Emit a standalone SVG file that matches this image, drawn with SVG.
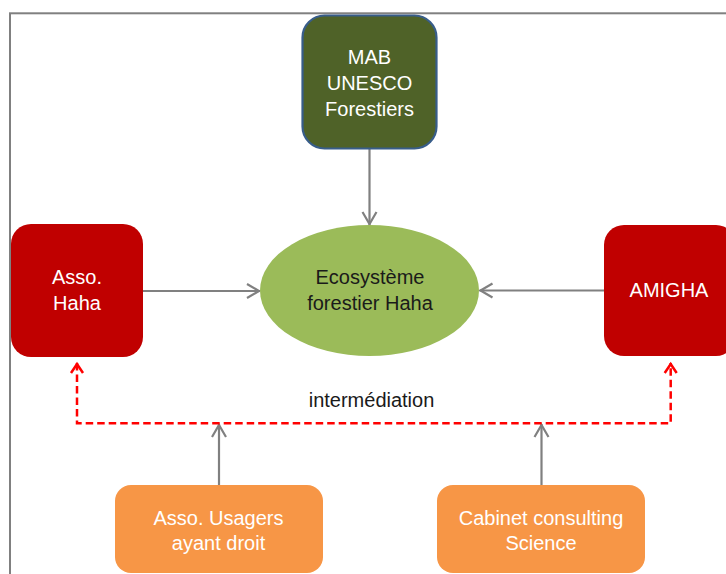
<svg xmlns="http://www.w3.org/2000/svg" width="726" height="574" viewBox="0 0 726 574">
  <defs>
    <marker id="ga" markerUnits="userSpaceOnUse" markerWidth="20" markerHeight="20" viewBox="-16 -10 20 20" refX="0" refY="0" orient="auto" overflow="visible">
      <path d="M-13,-7 L-1,0 L-13,7" fill="none" stroke="#808080" stroke-width="2.2"/>
    </marker>
    <marker id="ra" markerUnits="userSpaceOnUse" markerWidth="20" markerHeight="20" viewBox="-16 -10 20 20" refX="0" refY="0" orient="auto" overflow="visible">
      <path d="M-10,-6 L-1,0 L-10,6" fill="none" stroke="#ff0000" stroke-width="2.5"/>
    </marker>
    <style>
      .lbl { font-family: "Liberation Sans", Arial, sans-serif; font-size: 20px; text-anchor: middle; }
      .w { fill: #ffffff; }
      .d { fill: #1a1a1a; }
      .conn { fill: none; stroke: #808080; stroke-width: 2.2; marker-end: url(#ga); }
      .dash { fill: none; stroke: #ff0000; stroke-width: 2.5; stroke-dasharray: 7.5 4; }
      .red { fill: #c00000; }
      .orange { fill: #f79646; }
    </style>
  </defs>
  <rect x="0" y="0" width="726" height="574" fill="#ffffff"/>
  <rect id="frame" x="10" y="13.3" width="800" height="700" fill="none" stroke="#808080" stroke-width="2"/>

  <g id="connectors">
    <line class="conn" x1="369.5" y1="149" x2="369.5" y2="225"/>
    <line class="conn" x1="143" y1="291" x2="260" y2="291"/>
    <line class="conn" x1="604" y1="290.5" x2="479.5" y2="290.5"/>
    <line class="conn" x1="219" y1="485" x2="219" y2="424"/>
    <line class="conn" x1="541.5" y1="485" x2="541.5" y2="424"/>
    <path class="dash" d="M77,363 L77,423.3 L670.7,423.3 L670.7,363"/>
    <line x1="77" y1="370" x2="77" y2="363" stroke="none" marker-end="url(#ra)"/>
    <line x1="670.7" y1="370" x2="670.7" y2="363" stroke="none" marker-end="url(#ra)"/>
    <text class="lbl d" x="371.5" y="407" font-size="20.5">intermédiation</text>
  </g>

  <g id="mab">
    <rect x="302.5" y="15.5" width="134" height="133" rx="22" ry="22" fill="#4f6228" stroke="#385d8a" stroke-width="2.2"/>
    <text class="lbl w" x="369.5" y="64">MAB</text>
    <text class="lbl w" x="369.5" y="90">UNESCO</text>
    <text class="lbl w" x="369.5" y="116">Forestiers</text>
  </g>

  <g id="ecosysteme">
    <ellipse cx="369.5" cy="290.5" rx="109.5" ry="65.5" fill="#9bbb59"/>
    <text class="lbl d" x="370" y="284">Ecosystème</text>
    <text class="lbl d" x="370" y="310">forestier Haha</text>
  </g>

  <g id="asso-haha">
    <rect class="red" x="11" y="224" width="132" height="133" rx="20" ry="20"/>
    <text class="lbl w" x="77" y="284">Asso.</text>
    <text class="lbl w" x="77" y="310">Haha</text>
  </g>

  <g id="amigha">
    <rect class="red" x="604" y="225" width="132" height="131" rx="20" ry="20"/>
    <text class="lbl w" x="669" y="297">AMIGHA</text>
  </g>

  <g id="asso-usagers">
    <rect class="orange" x="115" y="485" width="208" height="88" rx="16" ry="16"/>
    <text class="lbl w" x="218.5" y="525">Asso. Usagers</text>
    <text class="lbl w" x="218.5" y="550">ayant droit</text>
  </g>

  <g id="cabinet">
    <rect class="orange" x="437" y="485" width="208" height="88" rx="16" ry="16"/>
    <text class="lbl w" x="541" y="525">Cabinet consulting</text>
    <text class="lbl w" x="541" y="550">Science</text>
  </g>
</svg>
